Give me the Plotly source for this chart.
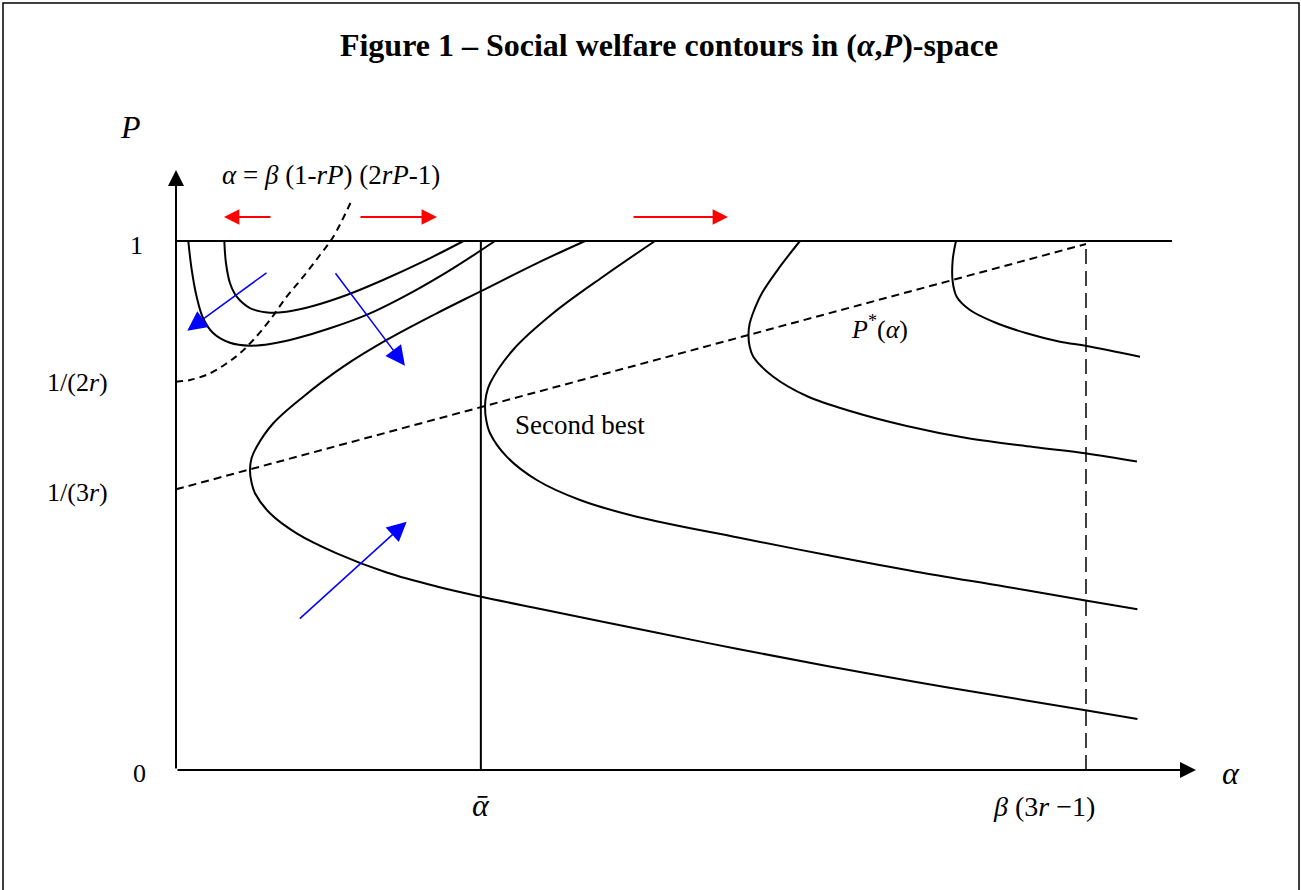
import plotly.graph_objects as go

# ---------------- data (alpha, P) ----------------
# alpha measured in units where beta(3r-1) = 1 ; P in units where P = 1 is the cap
alpha_bar = 0.335
alpha_max = 1.0
p_top = 1.0

curve_a_alpha = [0.0531, 0.0549, 0.0593, 0.0667, 0.0813, 0.1033, 0.1216, 0.1505, 0.1876, 0.2275, 0.2714, 0.3160]
curve_a_p = [1.000, 0.9584, 0.9206, 0.8947, 0.8733, 0.8645, 0.8664, 0.8771, 0.8979, 0.9263, 0.9609, 1.000]

curve_b_alpha = [0.0135, 0.0173, 0.0227, 0.0297, 0.0407, 0.0593, 0.0813, 0.1033, 0.1326, 0.1692, 0.2132, 0.2571, 0.3044, 0.3505]
curve_b_p = [1.000, 0.9452, 0.8947, 0.8544, 0.8261, 0.8077, 0.8021, 0.8053, 0.8161, 0.8350, 0.8633, 0.9011, 0.9484, 1.000]

curve_c_alpha = [0.4495, 0.3964, 0.3341, 0.2865, 0.2315, 0.1838, 0.1399, 0.1069, 0.0887, 0.0831, 0.0813, 0.0829,
                 0.0868, 0.1033, 0.1326, 0.1766, 0.2315, 0.2865, 0.3341, 0.4033, 0.5193, 0.6175, 0.7154, 0.8132,
                 0.9118, 1.0011, 1.0565]
curve_c_p = [1.000, 0.9578, 0.9042, 0.8633, 0.8129, 0.7624, 0.7057, 0.6554, 0.6112, 0.5898, 0.5671, 0.5444,
             0.5231, 0.4853, 0.4474, 0.4096, 0.3733, 0.3469, 0.3280, 0.3034, 0.2628, 0.2287, 0.1966, 0.1664,
             0.1380, 0.1125, 0.0964]

curve_d_alpha = [0.5264, 0.4692, 0.4143, 0.3703, 0.3451, 0.3409, 0.3396, 0.3409, 0.3451, 0.3634, 0.3964, 0.4440,
                 0.5063, 0.6176, 0.7154, 0.8132, 0.9118, 1.0011, 1.0565]
curve_d_p = [1.000, 0.9325, 0.8633, 0.7940, 0.7310, 0.7089, 0.6868, 0.6616, 0.6365, 0.5923, 0.5482, 0.5104,
             0.4788, 0.4395, 0.4064, 0.3749, 0.3465, 0.3200, 0.3038]

curve_e_alpha = [0.6857, 0.6637, 0.6440, 0.6341, 0.6303, 0.6291, 0.6303, 0.6344, 0.6564, 0.6931, 0.7407, 0.8030,
                 0.8689, 0.9421, 1.0008, 1.0560]
curve_e_p = [1.000, 0.9514, 0.9017, 0.8639, 0.8431, 0.8223, 0.8015, 0.7813, 0.7435, 0.7070, 0.6786, 0.6503,
             0.6276, 0.6106, 0.5983, 0.5832]

curve_f_alpha = [0.8571, 0.8535, 0.8535, 0.8579, 0.8725, 0.8981, 0.9348, 0.9714, 1.0008, 1.0593]
curve_f_p = [1.000, 0.9641, 0.9231, 0.8947, 0.8696, 0.8474, 0.8255, 0.8096, 0.8015, 0.7813]

# alpha = beta(1-rP)(2rP-1)
incentive_alpha = [0.0, 0.0154, 0.0374, 0.0557, 0.0703, 0.0849, 0.1033, 0.1216, 0.1399, 0.1582, 0.1729, 0.1937]
incentive_p = [0.7340, 0.7372, 0.7499, 0.7688, 0.7877, 0.8129, 0.8507, 0.8947, 0.9325, 0.9735, 1.0081, 1.0794]

# P*(alpha)
pstar_alpha = [0.0, 1.0]
pstar_p = [0.5306, 0.9943]

top_line_alpha = [0.0, 1.0945]
axis_x_end = 1.1209
axis_y_end = 1.1342

# arrows: (tail alpha, tail P, tip alpha, tip P)
red_arrows = [
    (0.1055, 1.0454, 0.0527, 1.0454),
    (0.2011, 1.0454, 0.2868, 1.0454),
    (0.5011, 1.0454, 0.6066, 1.0454),
]
blue_arrows = [
    (0.1011, 0.9420, 0.0124, 0.8304),
    (0.1740, 0.9420, 0.2516, 0.7643),
    (0.1344, 0.2836, 0.2535, 0.4694),
]

# text labels: (text, alpha, P, size)
labels = [
    ("<i>P</i>", -0.0495, 1.2155, 32),
    ("<i>α</i> = <i>β</i> (1-<i>rP</i>) (2<i>rP</i>-1)", 0.1703, 1.1248, 27),
    ("1", -0.0429, 0.9924, 26),
    ("1/(2<i>r</i>)", -0.1077, 0.7316, 26),
    ("1/(3<i>r</i>)", -0.1077, 0.5255, 26),
    ("0", -0.0396, -0.0057, 26),
    ("Second best", 0.4440, 0.6522, 27),
    ("<i>P</i><sup>*</sup>(<i>α</i>)", 0.7736, 0.8374, 26),
    ("<i>ᾱ</i>", 0.3352, -0.0662, 32),
    ("<i>β</i> (3<i>r</i> −1)", 0.9538, -0.0681, 28),
    ("<i>α</i>", 1.1593, -0.0057, 32),
]

title_text = "<b>Figure 1 – Social welfare contours in (<i>α</i>,<i>P</i>)-space</b>"

# ---------------- figure ----------------
W, H = 1301, 890
FONT = "Liberation Serif, Times New Roman, serif"
fig = go.Figure()

solid = dict(color="black", width=2)
for xs, ys in [(curve_a_alpha, curve_a_p), (curve_b_alpha, curve_b_p), (curve_c_alpha, curve_c_p),
               (curve_d_alpha, curve_d_p), (curve_e_alpha, curve_e_p), (curve_f_alpha, curve_f_p)]:
    fig.add_trace(go.Scatter(x=xs, y=ys, mode="lines",
                             line=dict(color="black", width=2, shape="spline", smoothing=1.0),
                             hoverinfo="skip"))

fig.add_trace(go.Scatter(x=incentive_alpha, y=incentive_p, mode="lines",
                         line=dict(color="black", width=2, dash="7px,5px", shape="spline"), hoverinfo="skip"))
fig.add_trace(go.Scatter(x=pstar_alpha, y=pstar_p, mode="lines",
                         line=dict(color="black", width=2, dash="8px,5px"), hoverinfo="skip"))
# P = 1 line
fig.add_trace(go.Scatter(x=top_line_alpha, y=[p_top, p_top], mode="lines", line=solid, hoverinfo="skip"))
# alpha-bar vertical
fig.add_trace(go.Scatter(x=[alpha_bar, alpha_bar], y=[0, p_top], mode="lines", line=solid, hoverinfo="skip"))
# beta(3r-1) dashed vertical
fig.add_trace(go.Scatter(x=[alpha_max, alpha_max], y=[0, pstar_p[1]], mode="lines",
                         line=dict(color="black", width=1.5, dash="15px,7px"), hoverinfo="skip"))

annotations = []
# axes with arrowheads
annotations.append(dict(x=axis_x_end, y=0, ax=0, ay=0, xref="x", yref="y", axref="x", ayref="y", text="",
                        showarrow=True, arrowhead=2, arrowsize=1.6, arrowwidth=2, arrowcolor="black", standoff=0))
annotations.append(dict(x=0, y=axis_y_end, ax=0, ay=0, xref="x", yref="y", axref="x", ayref="y", text="",
                        showarrow=True, arrowhead=2, arrowsize=1.6, arrowwidth=2, arrowcolor="black", standoff=0))
for (tx, ty, hx, hy) in red_arrows:
    annotations.append(dict(x=hx, y=hy, ax=tx, ay=ty, xref="x", yref="y", axref="x", ayref="y", text="",
                            showarrow=True, arrowhead=2, arrowsize=1.4, arrowwidth=2.2, arrowcolor="#ff0000", standoff=0))
for (tx, ty, hx, hy) in blue_arrows:
    annotations.append(dict(x=hx, y=hy, ax=tx, ay=ty, xref="x", yref="y", axref="x", ayref="y", text="",
                            showarrow=True, arrowhead=2, arrowsize=2.6, arrowwidth=1.5, arrowcolor="#0000ff", standoff=0))
for (txt, lx, ly, sz) in labels:
    annotations.append(dict(x=lx, y=ly, xref="x", yref="y", text=txt, showarrow=False,
                            xanchor="center", yanchor="middle", font=dict(family=FONT, size=sz, color="black")))

x0 = -176 / 910
x1 = (W - 176) / 910
y0 = -(H - 770) / 529
y1 = 770 / 529

fig.update_layout(
    width=W, height=H,
    margin=dict(l=0, r=0, t=0, b=0),
    paper_bgcolor="white", plot_bgcolor="white",
    showlegend=False,
    title=dict(text=title_text, x=669 / W, xanchor="center", y=1 - 45 / H, yanchor="middle",
               font=dict(family=FONT, size=32, color="black")),
    xaxis=dict(range=[x0, x1], visible=False, fixedrange=True),
    yaxis=dict(range=[y0, y1], visible=False, fixedrange=True),
    annotations=annotations,
    shapes=[dict(type="rect", xref="paper", yref="paper", x0=3 / W, x1=1299 / W, y0=-0.02, y1=1 - 3 / H,
                 line=dict(color="black", width=1.5))],
)

fig.write_html("out.html", config={"displayModeBar": False},
               post_script="document.body.style.margin='0';document.body.style.padding='0';document.body.style.overflow='hidden';")
